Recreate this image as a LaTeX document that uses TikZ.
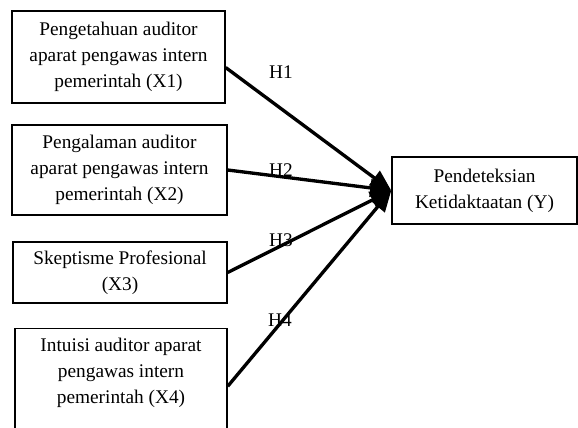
\documentclass[tikz,border=0pt]{standalone}
\usepackage{fontspec}
\setmainfont{Liberation Serif}
\usetikzlibrary{arrows.meta,positioning}

\begin{document}
\begin{tikzpicture}[x=0.02cm,y=-0.02cm,font=\fontsize{11}{14.7}\selectfont,
    var/.style={draw,line width=0.85pt,align=center,inner sep=0pt},
    hyp/.style={line width=1.9pt,-{Triangle[length=12pt,width=10pt]}}]
    \useasboundingbox (0,0) rectangle (578,427);
       \node[var,minimum width=4.26cm,minimum height=1.84cm] (x_1) at (118.5,57)
            {Pengetahuan auditor\\aparat pengawas intern\\pemerintah (X1)};
       \node[var,minimum width=4.30cm,minimum height=1.80cm] (x_2) at (119.5,170)
            {Pengalaman auditor\\aparat pengawas intern\\pemerintah (X2)};
       \node[var,minimum width=4.28cm,minimum height=1.22cm] (x_3) at (120,272.5)
            {Skeptisme Profesional\\(X3)};
       \node[var,minimum width=4.24cm,minimum height=2.10cm,
             text depth=12pt] (x_4) at (121,381)
            {Intuisi auditor aparat\\pengawas intern\\pemerintah (X4)};
       \node[var,minimum width=3.70cm,minimum height=1.34cm] (y) at (484.5,190.5)
            {Pendeteksian\\Ketidaktaatan (Y)};
       \node (h_1) at (281,72) {H1};
       \node (h_2) at (281,170) {H2};
       \node (h_3) at (281,240) {H3};
       \node (h_4) at (280,320) {H4};
        \path[hyp]
        ([yshift=-6pt]x_1.east) edge (y.west)
        (x_2.east) edge (y.west)
        (x_3.east) edge (y.west)
        ([yshift=-3pt]x_4.east) edge (y.west);
\end{tikzpicture}
\end{document}
